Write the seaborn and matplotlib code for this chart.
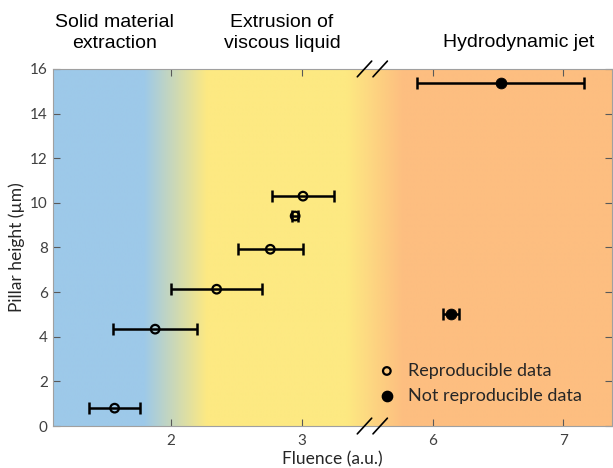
import numpy as np
import pandas as pd
import matplotlib
matplotlib.use('Agg')
import matplotlib.pyplot as plt
import seaborn as sns

# reproducible data (open markers)
rep_fluence = [1.57, 1.88, 2.35, 2.76, 2.95, 3.01]
rep_height = [0.80, 4.34, 6.13, 7.92, 9.41, 10.30]
rep_err = [0.195, 0.32, 0.35, 0.25, 0.025, 0.24]

# not reproducible data (filled markers)
nrep_fluence = [6.14, 6.52]
nrep_height = [5.01, 15.37]
nrep_err = [0.06, 0.64]

tick_values = [2, 3, 6, 7]
region_titles = ['Solid material\nextraction', 'Extrusion of\nviscous liquid', 'Hydrodynamic jet']

# broken x axis: everything above the break is shifted left by 2
BREAK_AT = 3.54
SHIFT = 2.0


def to_axis(x):
    x = np.asarray(x, dtype=float)
    return np.where(x > BREAK_AT, x - SHIFT, x)


sns.set_style('ticks')
plt.rcParams['font.family'] = ['Lato', 'DejaVu Sans']

fig = plt.figure(figsize=(6.13, 4.68), dpi=100)
ax = fig.add_axes([0.086, 0.0897, 0.912, 0.763])
xmin, xmax = 1.097, 5.37
ax.set_xlim(xmin, xmax)
ax.set_ylim(0, 16)

# gradient background: blue -> yellow -> orange
stops = [1.79, 2.27, 3.34, 3.77]
cols = np.array([[157, 201, 233], [253, 233, 130], [253, 233, 130], [253, 190, 128]]) / 255
xs = np.linspace(xmin, xmax, 600)
grad = np.stack([np.interp(xs, stops, cols[:, c]) for c in range(3)], axis=-1)[None, :, :]
ax.imshow(grad, extent=[xmin, xmax, 0, 16], aspect='auto', zorder=0, interpolation='bilinear')

rep = pd.DataFrame({'x': to_axis(rep_fluence), 'y': rep_height, 'e': rep_err})
nrep = pd.DataFrame({'x': to_axis(nrep_fluence), 'y': nrep_height, 'e': nrep_err})

ax.errorbar(rep['x'], rep['y'], xerr=rep['e'], fmt='none', ecolor='black',
            elinewidth=1.8, capsize=4, capthick=1.8, zorder=2)
ax.errorbar(nrep['x'], nrep['y'], xerr=nrep['e'], fmt='none', ecolor='black',
            elinewidth=1.8, capsize=4, capthick=1.8, zorder=2)
sns.scatterplot(data=rep, x='x', y='y', ax=ax, marker='o', s=38, facecolor='none',
                edgecolor='black', linewidth=1.6, zorder=3)
sns.scatterplot(data=nrep, x='x', y='y', ax=ax, marker='o', s=60, color='black',
                edgecolor='black', zorder=3)

# legend
ax.scatter([], [], marker='o', s=30, facecolor='none', edgecolor='black', linewidth=1.6,
           label='Reproducible data')
ax.scatter([], [], marker='o', s=55, color='black', label='Not reproducible data')
leg = ax.legend(loc='lower right', bbox_to_anchor=(0.97, 0.027), frameon=False,
                fontsize=13, handletextpad=0.2, labelspacing=0.5, borderaxespad=0.3)
for t in leg.get_texts():
    t.set_color('#262626')

ax.set_xticks(to_axis(tick_values))
ax.set_xticklabels([str(v) for v in tick_values])
ax.set_yticks(range(0, 17, 2))
ax.tick_params(direction='in', top=True, right=True, length=5, width=0.8,
               colors='#595959', labelcolor='#404040', labelsize=11)
ax.tick_params(axis='x', pad=6)
for sp in ax.spines.values():
    sp.set_color('#a0a0a0')
    sp.set_linewidth(0.8)
ax.set_xlabel('Fluence (a.u.)', fontsize=12.5, color='#262626', labelpad=2)
ax.set_ylabel('Pillar height (µm)', fontsize=12.5, color='#262626', labelpad=4)

# axis break marks
for yb in (0, 1):
    for dx in (-0.06, 0.06):
        xc = BREAK_AT + dx
        ax.plot([xc - 0.055, xc + 0.055], [yb - 0.022, yb + 0.022], color='black', lw=1.2,
                transform=ax.get_xaxis_transform(), clip_on=False, zorder=5)

# region titles above the plot
title_x = [1.57, 2.85, 4.66]
title_y = [1.10, 1.10, 1.073]
for tx, ty, title in zip(title_x, title_y, region_titles):
    ax.text(tx, ty, title, transform=ax.get_xaxis_transform(), ha='center', va='center',
            fontsize=14, family=['Liberation Sans', 'DejaVu Sans'], color='black',
            linespacing=1.3)

fig.savefig('out.png', dpi=100)
